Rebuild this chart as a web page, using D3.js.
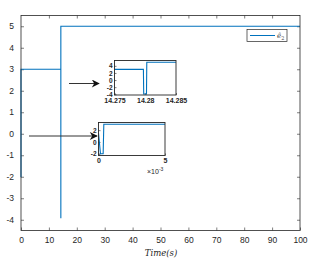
<!DOCTYPE html>
<html>
<head>
<meta charset="utf-8">
<script src="https://cdn.jsdelivr.net/npm/d3@7"></script>
<style>
  body { margin: 0; background: #fff; }
  svg { font-family: "Liberation Sans", Arial, sans-serif; }
</style>
</head>
<body>
<div id="chart"></div>
<script>
// signal samples (time in s, value)
var times  = [0, 0.00015, 0.00035, 0.0004, 14.2797, 14.27975, 14.2802, 14.28025, 100];
var values = [1.5, -2, -2, 3, 3, -3.9, -3.9, 5, 5];
var xTicks = [0, 10, 20, 30, 40, 50, 60, 70, 80, 90, 100];
var yTicks = [-4, -3, -2, -1, 0, 1, 2, 3, 4, 5];
var zoom1XTicks = [14.275, 14.28, 14.285];
var zoom1YTicks = [4, 2, 0, -2, -4];
var zoom2XTicks = [0, 0.005];
var zoom2YTicks = [2, 0, -2];

var blue = "#0072BD";
var pts = times.map(function(t, i) { return [t, values[i]]; });
var fmt = function(d) { return String(+d.toFixed(6)); };

var svg = d3.select("#chart").append("svg")
    .attr("width", 318)
    .attr("height", 260);

// main axes
var x = d3.scaleLinear().domain([0, 100]).range([21, 300]);
var y = d3.scaleLinear().domain([-4.5, 5.5]).range([230.5, 15.5]);

svg.append("rect")
    .attr("x", 21).attr("y", 15.5)
    .attr("width", 279).attr("height", 215)
    .attr("fill", "#fff");

function styleAxis(g, size) {
  g.select(".domain").remove();
  g.selectAll("line").attr("stroke", "#262626").attr("stroke-width", 0.6);
  g.selectAll("text").attr("fill", "#262626").style("font-size", size + "px");
}

svg.append("g").attr("transform", "translate(0,230.5)")
    .call(d3.axisBottom(x).tickValues(xTicks).tickSizeInner(-3).tickSizeOuter(0).tickPadding(6).tickFormat(fmt))
    .call(styleAxis, 8.5);
svg.append("g").attr("transform", "translate(0,15.5)")
    .call(d3.axisTop(x).tickValues(xTicks.slice(1, -1)).tickSizeInner(-3).tickSizeOuter(0).tickFormat(""))
    .call(styleAxis, 8.5);
svg.append("g").attr("transform", "translate(21,0)")
    .call(d3.axisLeft(y).tickValues(yTicks).tickSizeInner(-3).tickSizeOuter(0).tickPadding(7).tickFormat(fmt))
    .call(styleAxis, 8.5);
svg.append("g").attr("transform", "translate(300,0)")
    .call(d3.axisRight(y).tickValues(yTicks).tickSizeInner(-3).tickSizeOuter(0).tickFormat(""))
    .call(styleAxis, 8.5);

var line = d3.line().x(function(d) { return x(d[0]); }).y(function(d) { return y(d[1]); });
svg.append("path").datum(pts)
    .attr("d", line)
    .attr("fill", "none")
    .attr("stroke", blue)
    .attr("stroke-width", 1.1);

svg.append("rect")
    .attr("x", 21).attr("y", 15.5)
    .attr("width", 279).attr("height", 215)
    .attr("fill", "none").attr("stroke", "#262626").attr("stroke-width", 0.8);

// legend
var lg = svg.append("g");
lg.append("rect").attr("x", 247).attr("y", 29.5).attr("width", 40).attr("height", 12)
    .attr("fill", "#fff").attr("stroke", "#262626").attr("stroke-width", 0.7);
lg.append("line").attr("x1", 250).attr("x2", 275).attr("y1", 35.5).attr("y2", 35.5)
    .attr("stroke", blue).attr("stroke-width", 1);
var lt = lg.append("text").attr("x", 277).attr("y", 38)
    .style("font-family", "'DejaVu Serif', serif").style("font-style", "italic")
    .style("font-size", "7px").attr("fill", "#444");
lt.append("tspan").text("ê");
lt.append("tspan").attr("dy", 2).style("font-size", "5px").style("font-style", "normal").text("2");

// x label
svg.append("text").attr("x", 161).attr("y", 256).attr("text-anchor", "middle")
    .style("font-family", "'DejaVu Serif', 'Liberation Serif', serif").style("font-style", "italic")
    .style("font-size", "8.5px").attr("fill", "#262626")
    .text("Time(s)");

// inset plots
function inset(xd, yd, box, xt, yt, xfmt) {
  var ix = d3.scaleLinear().domain(xd).range([box[0], box[1]]);
  var iy = d3.scaleLinear().domain(yd).range([box[3], box[2]]);
  var id = "clip" + Math.round(box[0]);
  svg.append("clipPath").attr("id", id).append("rect")
      .attr("x", box[0]).attr("y", box[2]).attr("width", box[1] - box[0]).attr("height", box[3] - box[2]);
  svg.append("rect").attr("x", box[0]).attr("y", box[2])
      .attr("width", box[1] - box[0]).attr("height", box[3] - box[2]).attr("fill", "#fff");
  svg.append("g").attr("transform", "translate(0," + box[3] + ")")
      .call(d3.axisBottom(ix).tickValues(xt).tickSizeInner(-2).tickSizeOuter(0).tickPadding(3).tickFormat(xfmt))
      .call(styleAxis, 7)
      .selectAll("text").style("font-weight", "bold");
  svg.append("g").attr("transform", "translate(" + box[0] + ",0)")
      .call(d3.axisLeft(iy).tickValues(yt).tickSizeInner(-2).tickSizeOuter(0).tickPadding(2).tickFormat(fmt))
      .call(styleAxis, 6.5)
      .selectAll("text").style("font-weight", "bold");
  var il = d3.line().x(function(d) { return ix(d[0]); }).y(function(d) { return iy(d[1]); });
  svg.append("path").datum(pts)
      .attr("clip-path", "url(#" + id + ")")
      .attr("d", il)
      .attr("fill", "none").attr("stroke", blue).attr("stroke-width", 1.1);
  svg.append("rect").attr("x", box[0]).attr("y", box[2])
      .attr("width", box[1] - box[0]).attr("height", box[3] - box[2])
      .attr("fill", "none").attr("stroke", "#262626").attr("stroke-width", 0.9);
}

inset([14.275, 14.285], [-4.2, 5.5], [114.5, 176, 60.5, 95], zoom1XTicks, zoom1YTicks, fmt);
inset([0, 0.005], [-2.3, 3.3], [98.5, 165, 122.5, 155.5], zoom2XTicks, zoom2YTicks,
      function(d) { return fmt(d * 1000); });

svg.append("text").attr("x", 147).attr("y", 174)
    .style("font-size", "7px").attr("fill", "#262626")
    .text("×10")
    .append("tspan").attr("dy", -3).style("font-size", "5px").text("-3");

// arrows
svg.append("defs").append("marker")
    .attr("id", "ah").attr("viewBox", "0 0 10 10")
    .attr("refX", 9).attr("refY", 5)
    .attr("markerWidth", 10).attr("markerHeight", 8).attr("markerUnits", "userSpaceOnUse")
    .attr("orient", "auto")
  .append("path").attr("d", "M0,0 L10,5 L0,10 L3,5 Z").attr("fill", "#111");

[[69, 99, 83.5], [29, 97, 136]].forEach(function(a) {
  svg.append("line").attr("x1", a[0]).attr("x2", a[1]).attr("y1", a[2]).attr("y2", a[2])
      .attr("stroke", "#333").attr("stroke-width", 1).attr("marker-end", "url(#ah)");
});
</script>
</body>
</html>
